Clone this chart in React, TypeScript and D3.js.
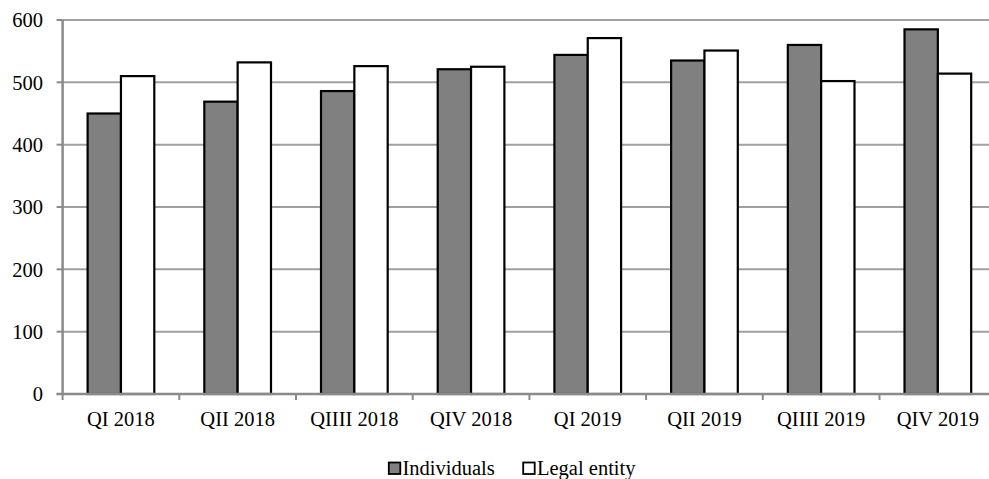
import React from "react";
import * as d3 from "d3";

const categories = ["QI 2018", "QII 2018", "QIII 2018", "QIV 2018", "QI 2019", "QII 2019", "QIII 2019", "QIV 2019"];
const categoryLabels = ["QI 2018", "QII 2018", "QIIII 2018", "QIV 2018", "QI 2019", "QII 2019", "QIIII 2019", "QIV 2019"];
const seriesNames = ["Individuals", "Legal entity"];
const individuals = [450, 469, 486, 521, 544, 535, 560, 585];
const legalEntity = [510, 532, 526, 525, 571, 551, 502, 514];
const yTicks = [0, 100, 200, 300, 400, 500, 600];

const W = 989;
const H = 479;
const left = 62.6;
const right = 996.2;
const top = 20;
const bottom = 394;
const FONT = "Liberation Serif, Times New Roman, DejaVu Serif, serif";
const FS = 20.5;

export default function App() {
  const x0 = d3.scaleBand<string>().domain(categories).range([left, right]).paddingInner(0).paddingOuter(0);
  const x1 = d3.scaleBand<string>().domain(seriesNames).range([0, x0.bandwidth()]).paddingInner(0).paddingOuter(0.75);
  const y = d3.scaleLinear().domain([0, 600]).range([bottom, top]);
  const series = [individuals, legalEntity];
  const fills = ["#808080", "#ffffff"];

  return (
    <div style={{ position: "absolute", left: 0, top: 0 }}>
      <svg width={W} height={H} style={{ display: "block", background: "#fff", fontFamily: FONT }}>
        {yTicks.filter((t) => t > 0).map((t) => (
          <line key={"g" + t} x1={left} x2={right} y1={y(t)} y2={y(t)} stroke="#a0a0a0" strokeWidth={2} />
        ))}
        {yTicks.map((t) => (
          <line key={"yt" + t} x1={left - 6} x2={left} y1={y(t)} y2={y(t)} stroke="#8a8a8a" strokeWidth={2} />
        ))}
        {yTicks.map((t) => (
          <text key={"yl" + t} x={43} y={y(t)} dy="0.35em" textAnchor="end" style={{ fontFamily: FONT }} fontSize={FS} fill="#000">
            {t}
          </text>
        ))}
        {categories.map((c, i) => (
          <g key={c} transform={`translate(${x0(c)},0)`}>
            {seriesNames.map((s, j) => (
              <rect
                key={s}
                x={x1(s)}
                y={y(series[j][i])}
                width={x1.bandwidth()}
                height={y(0) - y(series[j][i])}
                fill={fills[j]}
                stroke="#000"
                strokeWidth={2.2}
              />
            ))}
          </g>
        ))}
        <line x1={left} x2={left} y1={top} y2={bottom} stroke="#8a8a8a" strokeWidth={2.5} />
        <line x1={left - 6} x2={right} y1={bottom} y2={bottom} stroke="#8a8a8a" strokeWidth={2.5} />
        {categories.map((c) => (
          <line key={"xt" + c} x1={x0(c)} x2={x0(c)} y1={bottom} y2={bottom + 6} stroke="#8a8a8a" strokeWidth={2} />
        ))}
        {categories.map((c, i) => (
          <text key={"xl" + c} x={(x0(c) as number) + x0.bandwidth() / 2} y={426} textAnchor="middle" style={{ fontFamily: FONT }} fontSize={FS} fill="#000">
            {categoryLabels[i]}
          </text>
        ))}
        <g>
          <rect x={388.8} y={462.5} width={11.5} height={11.5} fill={fills[0]} stroke="#000" strokeWidth={1.8} />
          <text x={402.5} y={475} style={{ fontFamily: FONT }} fontSize={FS} fill="#000">{seriesNames[0]}</text>
          <rect x={523.2} y={462.5} width={11.5} height={11.5} fill={fills[1]} stroke="#000" strokeWidth={1.8} />
          <text x={537} y={475} style={{ fontFamily: FONT }} fontSize={FS} fill="#000">{seriesNames[1]}</text>
        </g>
      </svg>
    </div>
  );
}
